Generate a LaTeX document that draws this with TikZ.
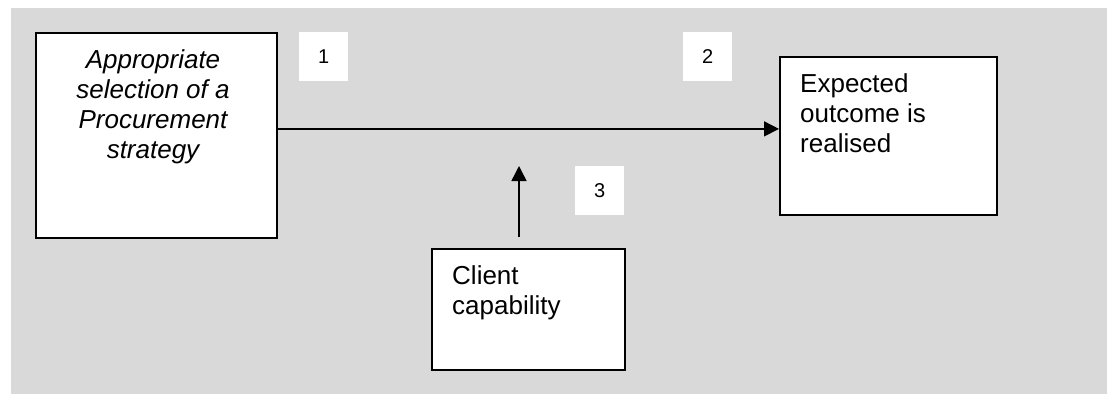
\documentclass[tikz,border=0pt]{standalone}
\usepackage{fontspec}
\setmainfont{Liberation Sans}
\usetikzlibrary{arrows.meta}
\definecolor{bggray}{HTML}{D9D9D9}
\tikzset{
  box/.style={draw=black, fill=white, line width=1.8pt, inner sep=0pt, anchor=north west},
  numbox/.style={fill=white, inner sep=0pt, anchor=north west, font=\fontsize{20}{24}\selectfont},
  boxtext/.style={inner sep=0pt, font=\fontsize{26}{30}\selectfont},
  conn/.style={line width=1.5pt, -{Triangle[length=15pt,width=15pt]}}
}
\begin{document}
\begin{tikzpicture}[x=1pt,y=-1pt]
\useasboundingbox (0,0) rectangle (1107,394);
\fill[bggray] (11,8) rectangle (1107,394);

\node[box, minimum width=241pt, minimum height=205pt] (sel) at (35,32) {};
\node[boxtext, anchor=north, align=center, font=\fontsize{26}{30}\selectfont\itshape] (selt) at (153,49.5)
  {Appropriate\\selection of a\\Procurement\\strategy};

\node[box, minimum width=217pt, minimum height=158pt] (out) at (779,56) {};
\node[boxtext, anchor=north west, align=left] (outt) at (800,73.4)
  {Expected\\outcome is\\realised};

\node[box, minimum width=193pt, minimum height=121pt] (cli) at (431,248) {};
\node[boxtext, anchor=north west, align=left] (clit) at (452,265.3)
  {Client\\capability};

\node[numbox, minimum width=49pt, minimum height=49pt] (n1) at (299,32) {1};
\node[numbox, minimum width=49pt, minimum height=49pt] (n2) at (683,32) {2};
\node[numbox, minimum width=49pt, minimum height=49pt] (n3) at (575,166) {3};

\coordinate (captail) at (519,237);
\coordinate (caphead) at (519,166);

\draw[conn] ([yshift=6.5pt]sel.east) -- ([yshift=7pt]out.west);
\draw[conn] (captail) -- (caphead);
\end{tikzpicture}
\end{document}
